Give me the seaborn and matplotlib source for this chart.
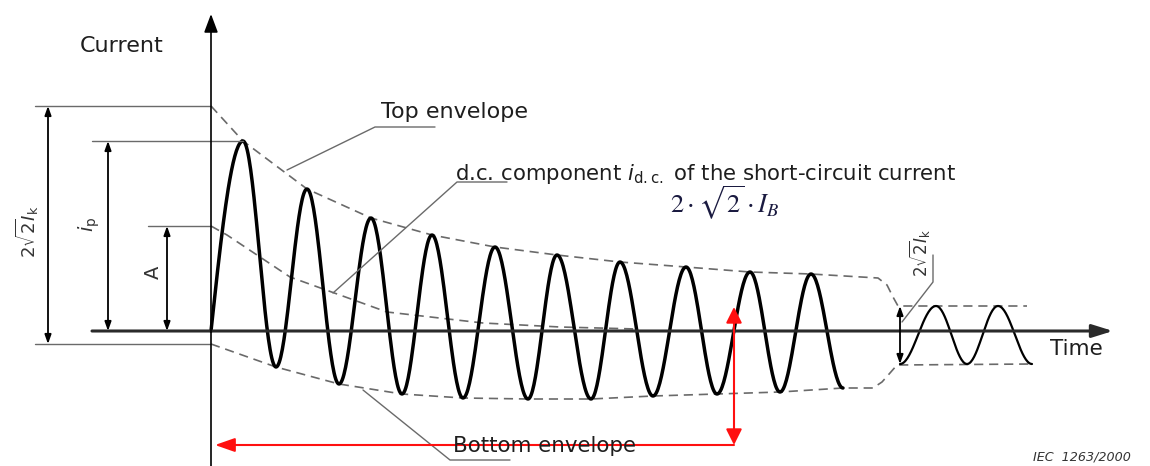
import numpy as np
import pandas as pd
import matplotlib
matplotlib.use("Agg")
import matplotlib.pyplot as plt
import seaborn as sns

# --- short-circuit current: successive extrema of the decaying asymmetric wave
wave_t = [211, 243, 276, 307, 339, 371, 402, 432, 463, 495, 528, 557, 591,
          620, 653, 686, 717, 750, 780, 811, 843]
wave_i = [0, 190, -36, 142, -53, 113, -63, 96, -67, 84, -68, 76, -68,
          69, -65, 64, -63, 59, -61, 57, -57]

# --- steady-state current after the transient has died out
steady_t = [900, 936, 967, 998, 1032]
steady_i = [-33, 25, -33, 25, -33]

# --- envelopes (including the jump to the steady-state band)
top_env_t = [211, 243, 307, 371, 432, 495, 557, 620, 686, 750, 811, 878, 887, 893, 898, 1027]
top_env_i = [225, 190, 142, 113, 96, 84, 76, 69, 64, 59, 57, 53, 46, 34, 25, 25]
bot_env_t = [211, 276, 339, 402, 463, 528, 591, 653, 717, 780, 843, 873, 882, 890, 897, 1032]
bot_env_i = [-13, -36, -53, -63, -67, -68, -68, -65, -63, -61, -57, -57, -51, -42, -34, -33]

# --- d.c. component of the short-circuit current
dc_t = [211, 227, 290, 387, 483, 560, 637]
dc_i = [105, 96, 54, 19, 8, 4, 2]

# --- characteristic quantities
i_peak = wave_i[1]                       # i_p
a_dc = dc_i[0]                           # A
ik_top, ik_bot = top_env_i[0], bot_env_i[0]   # 2*sqrt(2)*I_k band
ss_top, ss_bot = max(steady_i), min(steady_i)


def extrema_curve(t, v, n=40, from_zero=False):
    """Join successive extrema with half-cosine arcs."""
    xs, ys = [], []
    for k in range(len(t) - 1):
        s = np.linspace(0, 1, n)
        if k == 0 and from_zero:
            y = v[1] * np.sin(np.pi / 2 * s)
        else:
            y = (v[k] + v[k + 1]) / 2 + (v[k] - v[k + 1]) / 2 * np.cos(np.pi * s)
        xs.append(t[k] + (t[k + 1] - t[k]) * s)
        ys.append(y)
    return pd.DataFrame({"t": np.concatenate(xs), "i": np.concatenate(ys)})


sns.set_theme(style="white")
plt.rcParams["font.family"] = ["DejaVu Sans"]
plt.rcParams["mathtext.fontset"] = "dejavusans"

fig = plt.figure(figsize=(11.5, 4.66), dpi=100)
ax = fig.add_axes([0, 0, 1, 1])

GREY = "#6a6a6a"
DASH = (0, (5.5, 3.5))

# axes of the diagram
ax.annotate("", xy=(1113, 0), xytext=(92, 0),
            arrowprops=dict(arrowstyle="-|>,head_length=0.9,head_width=0.28",
                            mutation_scale=14, lw=2.2, color="#2a2a2a",
                            shrinkA=0, shrinkB=0))
ax.annotate("", xy=(211, 317), xytext=(211, -135),
            arrowprops=dict(arrowstyle="-|>,head_length=0.8,head_width=0.3",
                            mutation_scale=14, lw=1.2, color="black",
                            shrinkA=0, shrinkB=0))

# envelopes and d.c. component
ax.plot(top_env_t, top_env_i, color=GREY, lw=1.2, ls=DASH)
ax.plot(bot_env_t, bot_env_i, color=GREY, lw=1.2, ls=DASH)
ax.plot(dc_t, dc_i, color=GREY, lw=1.2, ls=DASH)

# current waveforms
sns.lineplot(data=extrema_curve(wave_t, wave_i, from_zero=True), x="t", y="i",
             ax=ax, color="black", lw=2.5, sort=False, estimator=None)
sns.lineplot(data=extrema_curve(steady_t, steady_i), x="t", y="i",
             ax=ax, color="black", lw=1.6, sort=False, estimator=None)
ax.set_xlim(0, 1150)
ax.set_ylim(-135, 331)
ax.set_axis_off()

# dimension lines
ext = dict(color=GREY, lw=1.0)
ax.plot([35, 211], [ik_top, ik_top], **ext)
ax.plot([35, 211], [ik_bot, ik_bot], **ext)
ax.plot([92, wave_t[1]], [i_peak, i_peak], **ext)
ax.plot([148, 211], [a_dc, a_dc], **ext)
dim = dict(arrowstyle="<|-|>,head_length=0.45,head_width=0.16",
           mutation_scale=12, lw=1.3, color="black", shrinkA=0, shrinkB=0)
ax.annotate("", xy=(48, ik_top), xytext=(48, ik_bot), arrowprops=dim)
ax.annotate("", xy=(108, i_peak), xytext=(108, 0), arrowprops=dim)
ax.annotate("", xy=(167, a_dc), xytext=(167, 0), arrowprops=dim)
ax.annotate("", xy=(900, ss_top), xytext=(900, ss_bot), arrowprops=dim)

# red time/current markers
red = dict(mutation_scale=12, lw=1.5, color="#ff1010", shrinkA=0, shrinkB=0)
ax.annotate("", xy=(734, 24), xytext=(734, -114),
            arrowprops=dict(arrowstyle="<|-|>,head_length=0.8,head_width=0.4", **red))
ax.annotate("", xy=(215, -114), xytext=(734, -114),
            arrowprops=dict(arrowstyle="-|>,head_length=1.0,head_width=0.35", **red))

# leader lines
ld = dict(color=GREY, lw=1.0)
ax.plot([287, 375, 435], [161, 204, 204], **ld)
ax.plot([333, 457, 507], [38, 149, 149], **ld)
ax.plot([363, 450, 510], [-59, -129, -129], **ld)
ax.plot([902, 933, 933], [9, 49, 76], **ld)

# texts
TXT = "#1e1e1e"
ax.text(80, 279, "Current", fontsize=16, color=TXT, va="baseline")
ax.text(381, 213, "Top envelope", fontsize=16, color=TXT, va="baseline")
ax.text(455, 151, r"d.c. component $i_{\mathrm{d.c.}}$ of the short-circuit current",
        fontsize=15.3, color=TXT, va="baseline")
ax.text(670, 118, r"$2\cdot\sqrt{2}\cdot I_B$", fontsize=19, color="#1a1a40",
        va="baseline", math_fontfamily="stix")
ax.text(453, -121, "Bottom envelope", fontsize=15.4, color=TXT, va="baseline")
ax.text(1050, -24, "Time", fontsize=15.5, color=TXT, va="baseline")
ax.text(1033, -129, "IEC  1263/2000", fontsize=9.2, style="italic",
        color="#333333", va="baseline")

rot = dict(rotation=90, ha="center", va="center", color="#333333")
ax.text(27, 99, r"$2\sqrt{2}I_{\mathrm{k}}$", fontsize=13, **rot)
ax.text(89, 107, r"$i_{\mathrm{p}}$", fontsize=14, **rot)
ax.text(153, 59, "A", fontsize=14, **rot)
ax.text(919, 78, r"$2\sqrt{2}I_{\mathrm{k}}$", fontsize=12, **rot)

fig.savefig("out.png", dpi=100)
